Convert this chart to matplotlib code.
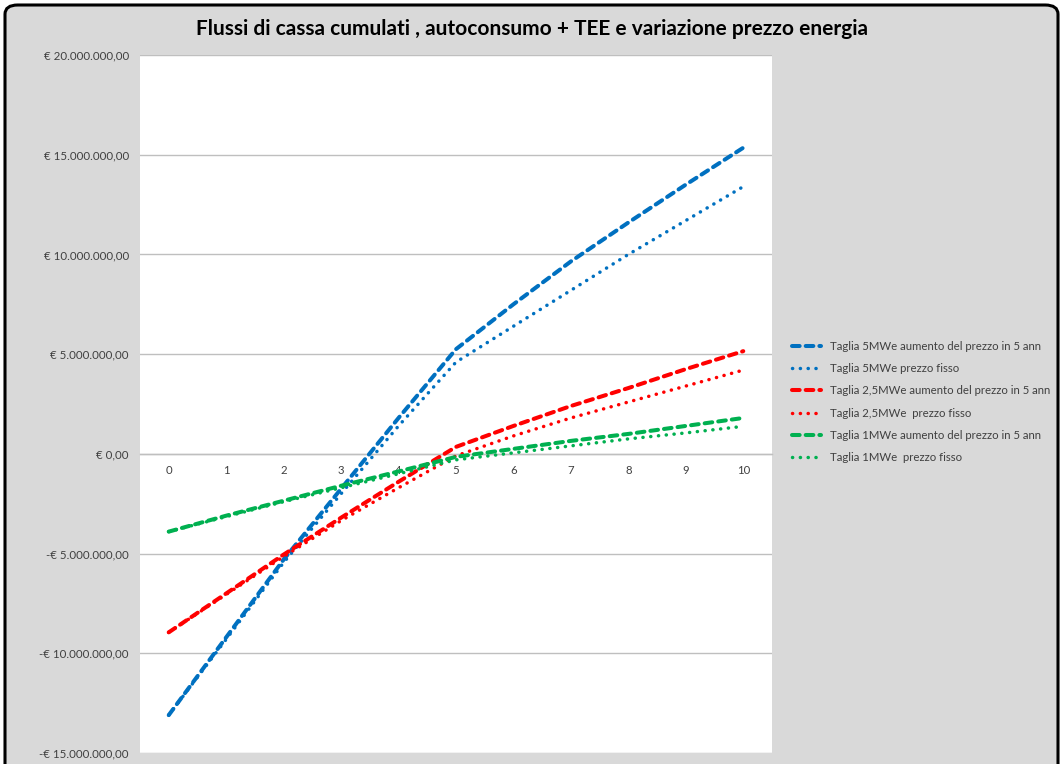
import matplotlib
matplotlib.use("Agg")
import matplotlib.pyplot as plt
from matplotlib.patches import FancyBboxPatch
from matplotlib.ticker import FuncFormatter

# ─── Dati (milioni di euro) ──────────────────────────────────────────────────
anni = list(range(0, 11))

taglia5_aumento = [-13.1, -9.2, -5.3, -1.75, 1.8, 5.25, 7.5, 9.65, 11.6, 13.5, 15.35]
taglia5_fisso   = [-13.1, -9.3, -5.45, -2.0, 1.4, 4.6, 6.4, 8.2, 10.0, 11.7, 13.4]
taglia25_aumento = [-8.95, -7.0, -5.05, -3.2, -1.4, 0.35, 1.4, 2.4, 3.3, 4.25, 5.15]
taglia25_fisso   = [-8.95, -7.05, -5.15, -3.35, -1.7, -0.1, 0.9, 1.8, 2.6, 3.4, 4.2]
taglia1_aumento = [-3.9, -3.1, -2.35, -1.6, -0.88, -0.15, 0.25, 0.65, 1.0, 1.4, 1.8]
taglia1_fisso   = [-3.9, -3.15, -2.4, -1.7, -1.0, -0.3, 0.05, 0.4, 0.75, 1.05, 1.38]

etichette = [
    "Taglia 5MWe aumento del prezzo in 5 ann",
    "Taglia 5MWe prezzo fisso",
    "Taglia 2,5MWe aumento del prezzo in 5 ann",
    "Taglia 2,5MWe  prezzo fisso",
    "Taglia 1MWe aumento del prezzo in 5 ann",
    "Taglia 1MWe  prezzo fisso",
]

BLU, ROSSO, VERDE = "#0070c0", "#ff0000", "#00b050"
TRATTEGGIO = (0, (1.9, 1.5))
PUNTINATO  = (0, (0.05, 2.2))

plt.rcParams["font.family"] = ["Lato", "DejaVu Sans"]

fig = plt.figure(figsize=(10.64, 7.64), dpi=100, facecolor="white")

# ─── Sfondo grigio con bordo arrotondato (stile Excel) ───────────────────────
bg = FancyBboxPatch((5 / 1064, -0.05), 1053 / 1064, 1.0 - 5 / 764 + 0.05,
                    boxstyle="round,pad=0,rounding_size=0.012",
                    transform=fig.transFigure, facecolor="#d9d9d9",
                    edgecolor="black", linewidth=2.2, zorder=-10)
fig.patches.append(bg)

ax = fig.add_axes([140 / 1064, 11 / 764, 632 / 1064, 698 / 764])
ax.set_zorder(1)
ax.set_facecolor("white")

serie = [
    (taglia5_aumento, BLU, TRATTEGGIO, 2.9),
    (taglia5_fisso, BLU, PUNTINATO, 2.5),
    (taglia25_aumento, ROSSO, TRATTEGGIO, 2.9),
    (taglia25_fisso, ROSSO, PUNTINATO, 2.5),
    (taglia1_aumento, VERDE, TRATTEGGIO, 2.9),
    (taglia1_fisso, VERDE, PUNTINATO, 2.5),
]
for (vals, col, ls, lw), lab in zip(serie, etichette):
    ax.plot(anni, [v * 1e6 for v in vals], color=col, linestyle=ls, lw=lw,
            dash_capstyle="round", label=lab, zorder=3)

# ─── Assi ────────────────────────────────────────────────────────────────────
ax.set_xlim(-0.5, 10.5)
ax.set_ylim(-15e6, 20e6)
ax.set_yticks([i * 5e6 for i in range(-3, 5)])
ax.set_xticks(anni)


def euro(v, pos):
    s = f"{abs(v):,.2f}".replace(",", "X").replace(".", ",").replace("X", ".")
    return ("-€ " if v < 0 else "€ ") + s


ax.yaxis.set_major_formatter(FuncFormatter(euro))
ax.grid(axis="y", color="#bfbfbf", lw=1.0, zorder=1)
ax.set_axisbelow(True)
for side in ["top", "right", "left"]:
    ax.spines[side].set_visible(False)
ax.spines["bottom"].set_position(("data", 0))
ax.spines["bottom"].set_color("#bfbfbf")
ax.spines["bottom"].set_linewidth(1.0)
ax.tick_params(axis="x", length=0, pad=8, labelsize=8.2, colors="#404040")
ax.tick_params(axis="y", length=0, pad=8, labelsize=8.3, colors="#404040")

# ─── Titolo e legenda ────────────────────────────────────────────────────────
fig.text(0.5, 1 - 29 / 764,
         "Flussi di cassa cumulati , autoconsumo + TEE e variazione prezzo energia",
         ha="center", va="center", fontsize=15, fontweight="bold", color="black")

fig.legend(loc="center left", bbox_to_anchor=(782 / 1064, 1 - 402 / 764),
           frameon=False, fontsize=8.2, handlelength=2.5, labelspacing=1.0,
           labelcolor="#404040")

fig.savefig("out.png", dpi=100, facecolor=fig.get_facecolor())
